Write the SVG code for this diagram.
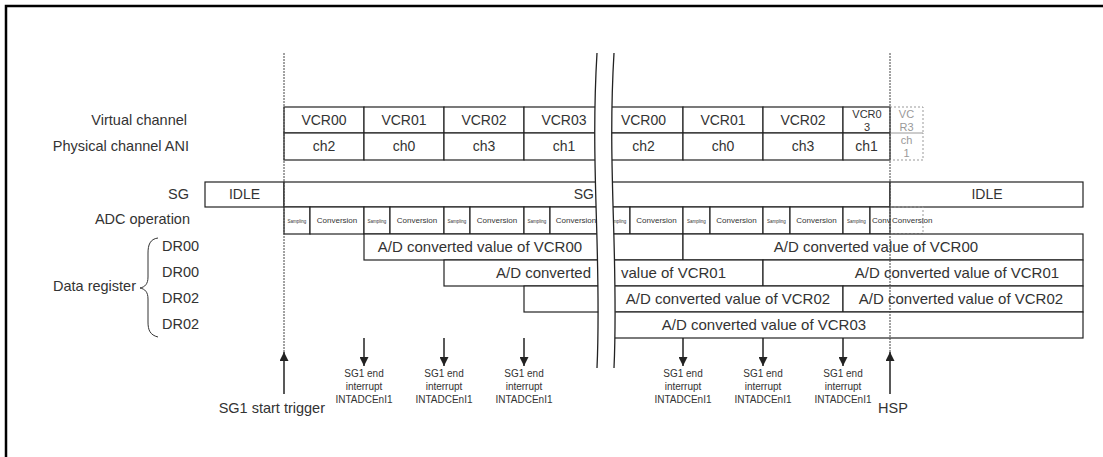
<svg xmlns="http://www.w3.org/2000/svg" width="1103" height="457" viewBox="0 0 1103 457">
<defs>
<marker id="ah" viewBox="0 0 10 10" refX="10" refY="5" markerWidth="10" markerHeight="9" orient="auto" markerUnits="userSpaceOnUse">
<path d="M0,0 L10,5 L0,10 z" fill="#222"/>
</marker>
</defs>
<style>
text{font-family:"Liberation Sans",Arial,sans-serif;fill:#333}
.lbl{font-size:14.5px;text-anchor:end}
.c14{font-size:14px;text-anchor:middle}
.c15{font-size:15px;text-anchor:middle}
.samp{font-size:4.5px;text-anchor:middle}
.conv{font-size:8px;text-anchor:middle}
.cell{fill:#fff;stroke:#222;stroke-width:1.2}
.ghost{fill:none;stroke:#999;stroke-width:1;stroke-dasharray:2 2}
.gt{fill:#999;font-size:11px;text-anchor:middle}
.int{font-size:10px;text-anchor:middle}
.dash{stroke:#444;stroke-width:1;stroke-dasharray:2 1;fill:none}
.arr{stroke:#222;stroke-width:1.5;fill:none;marker-end:url(#ah)}
.brk{fill:none;stroke:#222;stroke-width:1.3}
</style>
<rect width="1103" height="457" fill="#fff"/>
<path d="M6,460 V6 H1110" fill="none" stroke="#000" stroke-width="2.5"/>

<g id="labels">
<text class="lbl" x="187" y="125">Virtual channel</text>
<text class="lbl" x="189" y="151">Physical channel ANI</text>
<text class="lbl" x="189" y="199">SG</text>
<text class="lbl" x="190" y="224">ADC operation</text>
<text class="lbl" x="162" y="251" style="text-anchor:start">DR00</text>
<text class="lbl" x="162" y="277" style="text-anchor:start">DR00</text>
<text class="lbl" x="162" y="303" style="text-anchor:start">DR02</text>
<text class="lbl" x="162" y="329" style="text-anchor:start">DR02</text>
<text class="lbl" x="136" y="291">Data register</text>
<path d="M158,238 C150,239 148,245 148,253 L148,277 C148,284 145,287 140,288 C145,289 148,292 148,299 L148,322 C148,330 150,335 158,337" fill="none" stroke="#333" stroke-width="1"/>
</g>

<g id="vcr-row">
<rect class="cell" x="284" y="107" width="80" height="26"/>
<rect class="cell" x="364" y="107" width="80" height="26"/>
<rect class="cell" x="444" y="107" width="80" height="26"/>
<rect class="cell" x="524" y="107" width="80" height="26"/>
<rect class="cell" x="604" y="107" width="79" height="26"/>
<rect class="cell" x="683" y="107" width="80" height="26"/>
<rect class="cell" x="763" y="107" width="80" height="26"/>
<rect class="cell" x="843" y="107" width="47" height="26"/>
<rect class="ghost" x="890" y="107" width="33" height="26"/>
<text class="c14" x="324" y="125">VCR00</text>
<text class="c14" x="404" y="125">VCR01</text>
<text class="c14" x="484" y="125">VCR02</text>
<text class="c14" x="564" y="125">VCR03</text>
<text class="c14" x="643.5" y="125">VCR00</text>
<text class="c14" x="723" y="125">VCR01</text>
<text class="c14" x="803" y="125">VCR02</text>
<text class="c14" x="867" y="118" style="font-size:11px">VCR0</text>
<text class="c14" x="867" y="131" style="font-size:11px">3</text>
<text class="gt" x="906.5" y="118">VC</text>
<text class="gt" x="906.5" y="131">R3</text>
</g>

<g id="ch-row">
<rect class="cell" x="284" y="133" width="80" height="27"/>
<rect class="cell" x="364" y="133" width="80" height="27"/>
<rect class="cell" x="444" y="133" width="80" height="27"/>
<rect class="cell" x="524" y="133" width="80" height="27"/>
<rect class="cell" x="604" y="133" width="79" height="27"/>
<rect class="cell" x="683" y="133" width="80" height="27"/>
<rect class="cell" x="763" y="133" width="80" height="27"/>
<rect class="cell" x="843" y="133" width="47" height="27"/>
<rect class="ghost" x="890" y="133" width="33" height="27"/>
<text class="c14" x="324" y="151">ch2</text>
<text class="c14" x="404" y="151">ch0</text>
<text class="c14" x="484" y="151">ch3</text>
<text class="c14" x="564" y="151">ch1</text>
<text class="c14" x="643.5" y="151">ch2</text>
<text class="c14" x="723" y="151">ch0</text>
<text class="c14" x="803" y="151">ch3</text>
<text class="c14" x="866.5" y="151">ch1</text>
<text class="gt" x="906.5" y="144">ch</text>
<text class="gt" x="906.5" y="157">1</text>
</g>

<g id="sg-row">
<rect class="cell" x="205" y="182" width="79" height="25"/>
<rect class="cell" x="284" y="182" width="606" height="25"/>
<rect class="cell" x="890" y="182" width="193" height="25"/>
<text class="c14" x="244.5" y="199">IDLE</text>
<text class="c14" x="594" y="199" style="text-anchor:end">SG</text>
<text class="c14" x="987" y="199">IDLE</text>
</g>

<g id="adc-row">
<rect class="cell" x="284" y="207" width="26" height="27"/>
<rect class="cell" x="310" y="207" width="54" height="27"/>
<rect class="cell" x="364" y="207" width="26" height="27"/>
<rect class="cell" x="390" y="207" width="54" height="27"/>
<rect class="cell" x="444" y="207" width="26" height="27"/>
<rect class="cell" x="470" y="207" width="54" height="27"/>
<rect class="cell" x="524" y="207" width="26" height="27"/>
<rect class="cell" x="550" y="207" width="54" height="27"/>
<rect class="cell" x="604" y="207" width="26" height="27"/>
<rect class="cell" x="630" y="207" width="53" height="27"/>
<rect class="cell" x="683" y="207" width="27" height="27"/>
<rect class="cell" x="710" y="207" width="53" height="27"/>
<rect class="cell" x="763" y="207" width="27" height="27"/>
<rect class="cell" x="790" y="207" width="53" height="27"/>
<rect class="cell" x="843" y="207" width="27" height="27"/>
<rect class="cell" x="870" y="207" width="20" height="27"/>
<rect class="ghost" x="890" y="207" width="33" height="27"/>
<text class="samp" x="297" y="223">Sampling</text>
<text class="conv" x="337" y="223">Conversion</text>
<text class="samp" x="377" y="223">Sampling</text>
<text class="conv" x="417" y="223">Conversion</text>
<text class="samp" x="457" y="223">Sampling</text>
<text class="conv" x="497" y="223">Conversion</text>
<text class="samp" x="537" y="223">Sampling</text>
<text class="conv" x="576" y="223">Conversion</text>
<text class="samp" x="617" y="223">Sampling</text>
<text class="conv" x="656.5" y="223">Conversion</text>
<text class="samp" x="696.5" y="223">Sampling</text>
<text class="conv" x="736.5" y="223">Conversion</text>
<text class="samp" x="776.5" y="223">Sampling</text>
<text class="conv" x="816.5" y="223">Conversion</text>
<text class="samp" x="856.5" y="223">Sampling</text>
<text class="conv" x="872" y="223" style="text-anchor:start">Conv</text>
<text class="conv" x="892" y="223" style="text-anchor:start">Conversion</text>
</g>

<g id="dr-rows">
<rect class="cell" x="364" y="234" width="240" height="26"/>
<rect class="cell" x="604" y="234" width="79" height="26"/>
<rect class="cell" x="683" y="234" width="400" height="26"/>
<text class="c15" x="480" y="252">A/D converted value of VCR00</text>
<text class="c15" x="876" y="252">A/D converted value of VCR00</text>
<rect class="cell" x="444" y="260" width="160" height="26"/>
<rect class="cell" x="604" y="260" width="159" height="26"/>
<rect class="cell" x="763" y="260" width="320" height="26"/>
<text class="c15" x="591" y="278" style="text-anchor:end">A/D converted</text>
<text class="c15" x="621" y="278" style="text-anchor:start">value of VCR01</text>
<text class="c15" x="957" y="278">A/D converted value of VCR01</text>
<rect class="cell" x="524" y="286" width="80" height="26"/>
<rect class="cell" x="604" y="286" width="239" height="26"/>
<rect class="cell" x="843" y="286" width="240" height="26"/>
<text class="c15" x="728" y="304">A/D converted value of VCR02</text>
<text class="c15" x="961" y="304">A/D converted value of VCR02</text>
<rect class="cell" x="604" y="312" width="479" height="26"/>
<text class="c15" x="764" y="330">A/D converted value of VCR03</text>
</g>

<g id="break">
<path d="M597,53 C590,170 602,260 597,368 L614,368 C619,260 607,170 614,53 Z" fill="#fff"/>
<path class="brk" d="M597,53 C590,170 602,260 597,368"/>
<path class="brk" d="M614,53 C607,170 619,260 614,368"/>
</g>

<g id="connectors">
<line class="dash" x1="284" y1="53" x2="284" y2="352"/>
<line class="dash" x1="890" y1="53" x2="890" y2="352"/>
<line class="arr" x1="284" y1="394" x2="284" y2="352"/>
<line class="arr" x1="890" y1="394" x2="890" y2="352"/>
<line class="arr" x1="364" y1="338" x2="364" y2="366"/>
<line class="arr" x1="444" y1="338" x2="444" y2="366"/>
<line class="arr" x1="524" y1="338" x2="524" y2="366"/>
<line class="arr" x1="683" y1="338" x2="683" y2="366"/>
<line class="arr" x1="763" y1="338" x2="763" y2="366"/>
<line class="arr" x1="843" y1="338" x2="843" y2="366"/>
</g>

<g id="events">
<text class="lbl" x="325" y="413">SG1 start trigger</text>
<text class="lbl" x="878" y="413" style="text-anchor:start">HSP</text>
<g id="int1"><text class="int" x="364" y="377">SG1 end</text><text class="int" x="364" y="390">interrupt</text><text class="int" x="364" y="403">INTADCEnI1</text></g>
<g id="int2"><text class="int" x="444" y="377">SG1 end</text><text class="int" x="444" y="390">interrupt</text><text class="int" x="444" y="403">INTADCEnI1</text></g>
<g id="int3"><text class="int" x="524" y="377">SG1 end</text><text class="int" x="524" y="390">interrupt</text><text class="int" x="524" y="403">INTADCEnI1</text></g>
<g id="int4"><text class="int" x="683" y="377">SG1 end</text><text class="int" x="683" y="390">interrupt</text><text class="int" x="683" y="403">INTADCEnI1</text></g>
<g id="int5"><text class="int" x="763" y="377">SG1 end</text><text class="int" x="763" y="390">interrupt</text><text class="int" x="763" y="403">INTADCEnI1</text></g>
<g id="int6"><text class="int" x="843" y="377">SG1 end</text><text class="int" x="843" y="390">interrupt</text><text class="int" x="843" y="403">INTADCEnI1</text></g>
</g>
</svg>
